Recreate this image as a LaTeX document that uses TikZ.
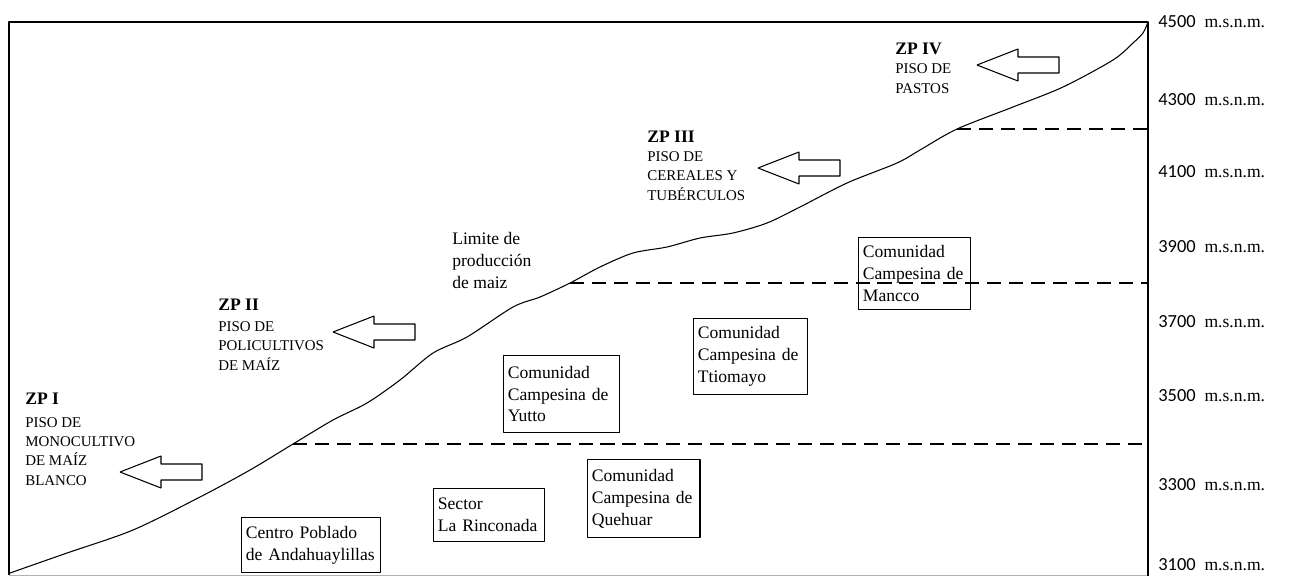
\documentclass[tikz,border=0pt]{standalone}
\usepackage{fontspec}
\setmainfont{Liberation Serif}
\newfontfamily\cifras{Carlito}
\usetikzlibrary{positioning}

\begin{document}
\begin{tikzpicture}[x=0.02cm,y=-0.02cm,line join=bevel,
  perfil/.style={black,line width=0.6pt},
  limite/.style={black,line width=0.6pt,dash pattern=on 8pt off 4.5pt},
  caja/.style={draw,line width=0.6pt,anchor=north west,align=left,inner xsep=2.5pt,inner ysep=0pt,font=\fontsize{10}{12.5}\selectfont},
  zona/.style={anchor=base west,align=left,inner sep=0pt,font=\fontsize{8.5}{11}\selectfont},
  flecha/.style={draw,line width=0.6pt,fill=white},
  cota/.style={anchor=west,inner sep=0pt,font=\fontsize{10}{12}\selectfont}]
\useasboundingbox (0,0) rectangle (1289,576);
%%
\coordinate (marcoNO) at (9,22);
\coordinate (marcoSE) at (1148,575);
\draw [gray!60,line width=0.5pt] (marcoNO |- marcoSE) -- (marcoSE);
\draw [black,line width=0.7pt] (marcoNO |- marcoSE) -- (marcoNO) -- (marcoNO -| marcoSE) -- (1148,576);
%% perfil altitudinal
\draw [perfil] plot[smooth,tension=0.5] coordinates {(10,573) (67,553) (133,530) (200,497) (250,470) (293,444) (333,420) (367,403) (400,380) (433,353) (467,337) (513,307) (540,297) (570,283) (600,267) (633,253) (667,247) (700,238) (733,233) (767,223) (800,207) (847,183) (897,163) (920,150) (957,129) (1013,107) (1063,87) (1113,60) (1133,43) (1143,33) (1148,22)};
%% limites de piso
\coordinate (lim3400) at (293,444);
\coordinate (lim3800) at (570,283);
\coordinate (lim4200) at (957,129);
\draw [limite] (lim3400) -- (lim3400 -| marcoSE);
\draw [limite] (lim3800) -- (lim3800 -| marcoSE);
\draw [limite] (lim4200) -- (lim4200 -| marcoSE);
%% cotas
\foreach \alt/\py in {4500/22,4300/100,4100/172,3900/247,3700/322,3500/396,3300/485,3100/565}
  \node (cota\alt) at (1158,\py) [cota] {{\cifras\fontsize{10.5}{12}\selectfont\alt}\hspace{5pt}m.s.n.m.};
%% zonas de produccion (base = ultima linea)
\node (zpI) at (25,485) [zona] {{\fontsize{10}{11}\selectfont\bfseries ZP I}\\[2pt]PISO DE\\MONOCULTIVO\\DE MAÍZ\\BLANCO};
\node (zpII) at (218,370) [zona] {{\fontsize{10}{11}\selectfont\bfseries ZP II}\\[1pt]PISO DE\\POLICULTIVOS\\DE MAÍZ};
\node (zpIII) at (647,200) [zona] {{\fontsize{10}{11}\selectfont\bfseries ZP III}\\[0pt]PISO DE\\CEREALES Y\\TUBÉRCULOS};
\node (zpIV) at (895,93) [zona] {{\fontsize{10}{11}\selectfont\bfseries ZP IV}\\[0pt]PISO DE\\PASTOS};
\foreach \px/\py in {120/472,333/332,758/168,977/65}
  \draw [flecha] (\px,\py) -- ++(41,-16) -- ++(0,8) -- ++(41,0) -- ++(0,16) -- ++(-41,0) -- ++(0,8) -- cycle;
\node (limMaiz) at (452,288) [zona,font=\fontsize{10}{12.5}\selectfont] {Limite de\\producción\\de maiz};
%% localidades
\node (cpAndahuay) at (241,517) [caja,text width=74pt,minimum height=31.3pt] {Centro Poblado\\de Andahuaylillas};
\node (secRinconada) at (433,488) [caja,text width=58pt,minimum height=30.2pt] {Sector\\La Rinconada};
\node (ccQuehuar) at (587,459) [caja,text width=59pt,minimum height=44.4pt] {Comunidad\\Campesina de\\Quehuar};
\node (ccYutto) at (503,355) [caja,text width=61pt,minimum height=43.8pt] {Comunidad\\Campesina de\\Yutto};
\node (ccTtiomayo) at (693,318) [caja,text width=60pt,minimum height=43.2pt] {Comunidad\\Campesina de\\Ttiomayo};
\node (ccMancco) at (858,237) [caja,text width=58.7pt,minimum height=41pt] {Comunidad\\Campesina de\\Mancco};
%
\end{tikzpicture}
\end{document}
